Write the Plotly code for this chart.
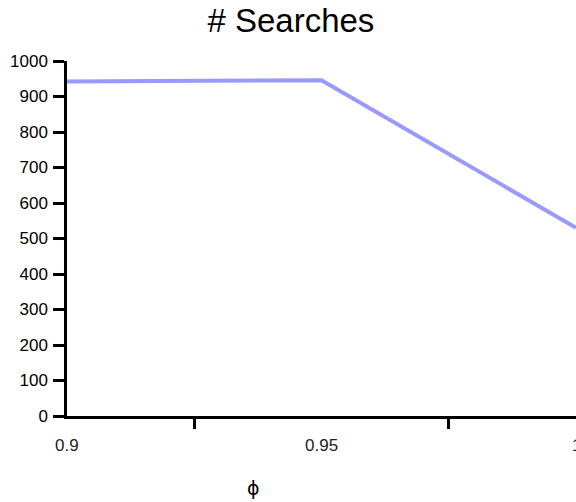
import plotly.graph_objects as go

phi = [0.9, 0.95, 1.0]
searches = [942, 946, 530]
x_tick_marks = [0.925, 0.975]
x_label_vals = [0.9, 0.95, 1.0]
x_label_text = ["0.9", "0.95", "1"]
y_ticks = [0, 100, 200, 300, 400, 500, 600, 700, 800, 900, 1000]

FONT = "Liberation Sans, Arial, Helvetica"

fig = go.Figure()
fig.add_trace(go.Scatter(x=phi, y=searches, mode="lines",
                         line=dict(color="#9999ff", width=4),
                         showlegend=False, cliponaxis=False))

ann = []
for v, t in zip(x_label_vals, x_label_text):
    ann.append(dict(x=v, xref="x", y=-0.0845, yref="paper", text=t, showarrow=False,
                    xanchor="center", yanchor="middle",
                    font=dict(family=FONT, size=17, color="#222")))
ann.append(dict(x=0.9367, xref="x", y=-0.203, yref="paper", text="ϕ", showarrow=False,
                xanchor="center", yanchor="middle",
                font=dict(family="DejaVu Sans", size=19, color="black")))

fig.update_layout(
    width=576, height=502,
    margin=dict(l=67, r=0, t=61, b=86),
    plot_bgcolor="white", paper_bgcolor="white",
    title=dict(text="# Searches", x=0.505, xanchor="center", y=0.960, yanchor="middle",
               font=dict(family=FONT, size=33, color="black")),
    xaxis=dict(range=[0.9, 1.0], tickvals=x_tick_marks, ticktext=["", ""],
               ticks="outside", ticklen=10, tickwidth=2.5, tickcolor="black",
               showline=True, linecolor="black", linewidth=2.5, showgrid=False,
               zeroline=False),
    yaxis=dict(range=[0, 1000], tickvals=y_ticks, ticks="outside", ticklen=11,
               tickwidth=2.5, tickcolor="black", showline=True, linecolor="black",
               linewidth=2.5, showgrid=False, zeroline=False, ticklabelstandoff=2,
               tickfont=dict(family=FONT, size=17, color="black")),
    annotations=ann,
)
fig.write_html("out.html", config={"displayModeBar": False},
               post_script="document.body.style.margin='0';document.body.style.overflow='hidden';")
